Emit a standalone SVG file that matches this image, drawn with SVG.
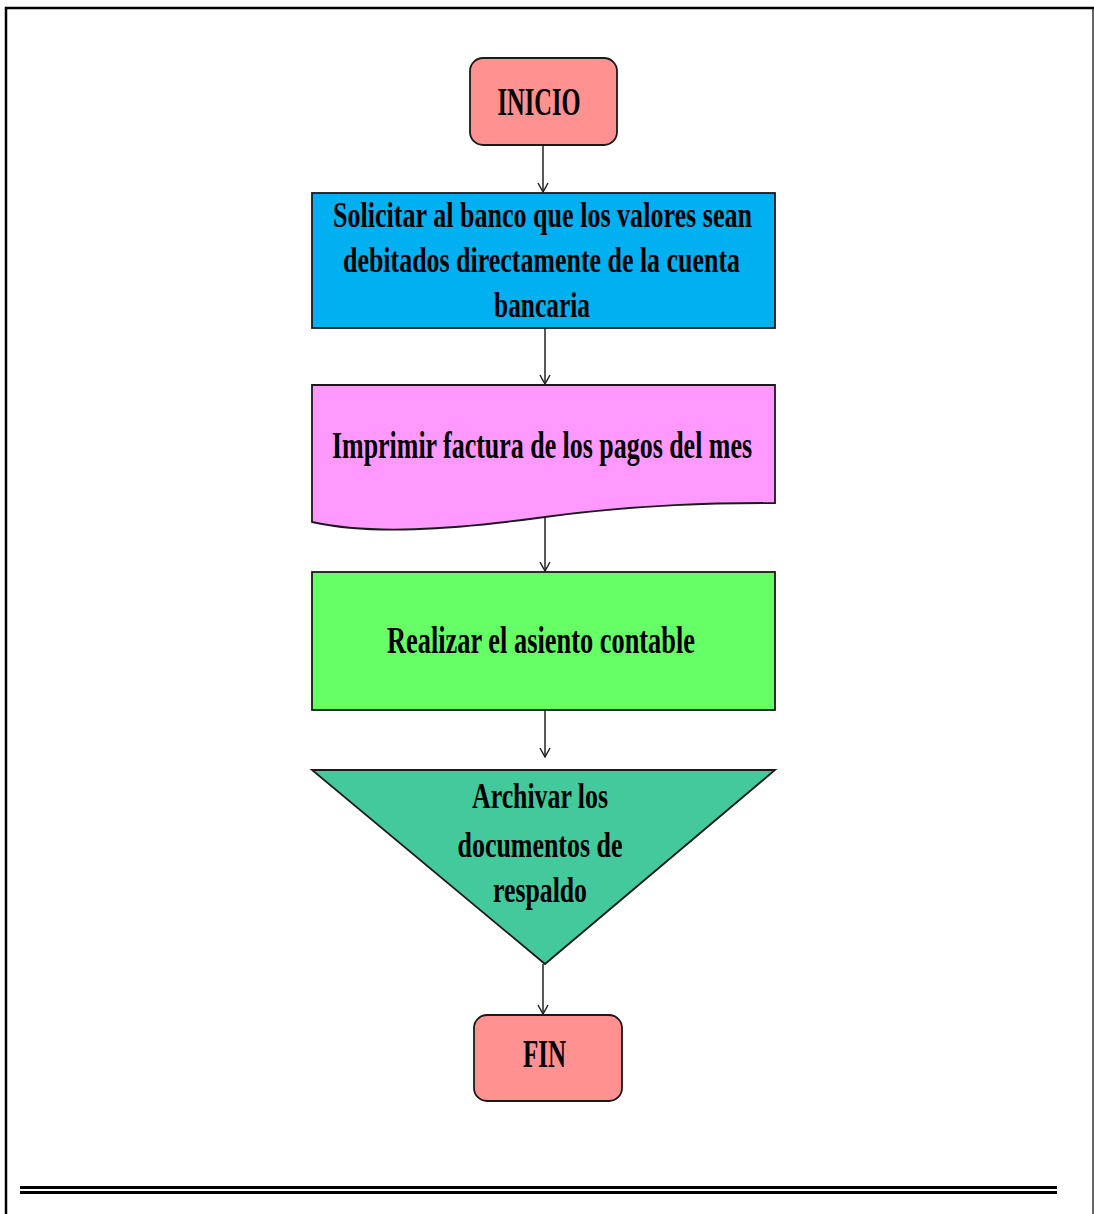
<svg xmlns="http://www.w3.org/2000/svg" width="1094" height="1214" viewBox="0 0 1094 1214">
  <defs>
    <style>
      .shape { stroke: #1a1a1a; stroke-width: 1.8; }
      .term { fill: #FF9191; }
      .blue { fill: #00B0F0; }
      .pink { fill: #FF99FF; }
      .green { fill: #66FF66; }
      .teal { fill: #43C99B; }
      .lbl { font-family: "Liberation Serif", "Times New Roman", serif; font-weight: bold; fill: #000; text-anchor: middle; }
      .conn { stroke: #222; stroke-width: 1.5; fill: none; marker-end: url(#arrow); }
      .frame { stroke: #000; fill: none; }
    </style>
    <marker id="arrow" markerWidth="12" markerHeight="12" refX="10" refY="6" orient="auto" markerUnits="userSpaceOnUse">
      <path d="M1,1 L10,6 L1,11" fill="none" stroke="#222" stroke-width="1.5"/>
    </marker>
  </defs>

  <rect width="1094" height="1214" fill="#fff"/>

  <!-- page frame -->
  <g id="frame">
    <path class="frame" d="M6,1214 V8 H1094" stroke-width="2.5"/>
    <path class="frame" d="M1093,8 V1214" stroke-width="1.2"/>
    <rect x="20" y="1186" width="1037" height="3" fill="#000"/>
    <rect x="20" y="1191" width="1037" height="3" fill="#000"/>
  </g>

  <!-- connectors -->
  <g id="connectors">
    <line class="conn" x1="543" y1="145" x2="543" y2="192"/>
    <line class="conn" x1="545" y1="328" x2="545" y2="384"/>
    <line class="conn" x1="545" y1="518" x2="545" y2="571"/>
    <line class="conn" x1="545" y1="710" x2="545" y2="757"/>
    <line class="conn" x1="543" y1="964" x2="543" y2="1014"/>
  </g>

  <g id="inicio">
    <rect class="shape term" x="470" y="58" width="147" height="87" rx="13"/>
    <text class="lbl" x="539" y="115" font-size="40" textLength="83" lengthAdjust="spacingAndGlyphs">INICIO</text>
  </g>

  <g id="solicitar">
    <rect class="shape blue" x="312" y="193" width="463" height="135"/>
    <text class="lbl" x="542.5" y="227" font-size="36" textLength="419" lengthAdjust="spacingAndGlyphs">Solicitar al banco que los valores sean</text>
    <text class="lbl" x="541.5" y="272" font-size="36" textLength="397" lengthAdjust="spacingAndGlyphs">debitados directamente de la cuenta</text>
    <text class="lbl" x="542" y="317" font-size="36" textLength="96" lengthAdjust="spacingAndGlyphs">bancaria</text>
  </g>

  <g id="imprimir">
    <path class="shape pink" d="M312,385 H775 V503 C720,503 640,504 545,517 C450,530 370,535 312,522 Z"/>
    <text class="lbl" x="542" y="458" font-size="38" textLength="420" lengthAdjust="spacingAndGlyphs">Imprimir factura  de los pagos del mes</text>
  </g>

  <g id="asiento">
    <rect class="shape green" x="312" y="572" width="463" height="138"/>
    <text class="lbl" x="541" y="653" font-size="37" textLength="308" lengthAdjust="spacingAndGlyphs">Realizar el asiento contable</text>
  </g>

  <g id="archivar">
    <path class="shape teal" d="M312,770 H775 L545,964 Z"/>
    <text class="lbl" x="540" y="808" font-size="36" textLength="136" lengthAdjust="spacingAndGlyphs">Archivar  los</text>
    <text class="lbl" x="540" y="857" font-size="36" textLength="165" lengthAdjust="spacingAndGlyphs">documentos de</text>
    <text class="lbl" x="540" y="902" font-size="36" textLength="94" lengthAdjust="spacingAndGlyphs">respaldo</text>
  </g>

  <g id="fin">
    <rect class="shape term" x="474" y="1015" width="148" height="86" rx="13"/>
    <text class="lbl" x="544.5" y="1067" font-size="40" textLength="43" lengthAdjust="spacingAndGlyphs">FIN</text>
  </g>
</svg>
